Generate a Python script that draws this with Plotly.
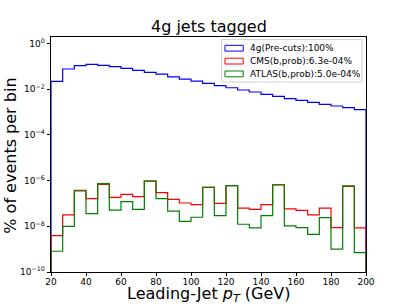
import numpy as np
import plotly.graph_objects as go

# ---------------- data ----------------
bin_lo, bin_hi, n_bins = 20, 200, 27
edges = np.linspace(bin_lo, bin_hi, n_bins + 1)

pre_cuts = [2.24e-2, 7.76e-2, 1.08e-1, 1.24e-1, 1.12e-1, 9.8e-2, 8.3e-2, 6.8e-2, 5.5e-2,
            4.6e-2, 3.5e-2, 2.8e-2, 2.3e-2, 1.8e-2, 1.45e-2, 1.17e-2, 9.3e-3, 7.6e-3,
            6.0e-3, 4.9e-3, 3.9e-3, 3.3e-3, 2.7e-3, 2.2e-3, 1.86e-3, 1.58e-3, 1.29e-3]
cms = [3.9e-9, 3.2e-8, 3.6e-7, 1.62e-7, 6.9e-7, 1.86e-7, 2.5e-7, 2.0e-7, 9.4e-7,
       3.0e-7, 1.51e-7, 1.05e-7, 8.9e-8, 5.1e-7, 1.02e-7, 6.1e-7, 6.3e-8, 5.5e-8,
       8.9e-8, 6.6e-7, 5.8e-8, 5.0e-8, 3.2e-8, 6.3e-8, 8.7e-9, 5.6e-7, 8.5e-9]
atlas = [8.1e-10, 1.0e-8, 3.8e-7, 3.6e-8, 7.4e-7, 5.1e-8, 1.2e-7, 5.5e-8, 9.8e-7,
         1.62e-7, 4.6e-8, 1.66e-8, 2.5e-8, 5.1e-7, 2.95e-8, 6.0e-7, 1.23e-8, 8.5e-9,
         2.95e-8, 6.5e-7, 1.05e-8, 8.7e-9, 4.4e-9, 2.4e-8, 1.0e-9, 5.9e-7, 7.1e-10]

series_values = [pre_cuts, cms, atlas]
series_names = ["4g(Pre-cuts):100%", "CMS(b,prob):6.3e-04%", "ATLAS(b,prob):5.0e-04%"]
series_colors = ["#0000ff", "#ff0000", "#008000"]

x_ticks = [20, 40, 60, 80, 100, 120, 140, 160, 180, 200]
y_tick_exps = [0, -2, -4, -6, -8, -10]

title_text = "4g jets tagged"
x_title = "Leading-Jet <i>p</i><sub><i>T</i></sub> (GeV)"
y_title = "% of events per bin"

# ---------------- figure ----------------
FONT = "DejaVu Sans"
FLOOR = 1e-14  # bottom of step outline (below visible range, clipped)

fig = go.Figure()
for vals, name, color in zip(series_values, series_names, series_colors):
    xs = [edges[0]] + list(edges) + [edges[-1]]
    ys = [FLOOR] + list(vals) + [vals[-1], FLOOR]
    fig.add_trace(go.Scatter(x=xs, y=ys, mode="lines", line_shape="hv",
                             line=dict(color=color, width=1.2), name=name,
                             showlegend=False, hoverinfo="skip"))

axis_common = dict(showline=True, linecolor="black", linewidth=0.8, mirror=True,
                   ticks="outside", ticklen=3.5, tickwidth=0.8, tickcolor="black",
                   showgrid=False, zeroline=False, layer="below traces",
                   tickfont=dict(family=FONT, size=9, color="black"))

fig.update_layout(
    width=407, height=305,
    margin=dict(l=51, r=41, t=37, b=33, autoexpand=False),
    paper_bgcolor="white", plot_bgcolor="white",
    font=dict(family=FONT, color="black"),
    xaxis=dict(range=[bin_lo, bin_hi], tickvals=x_ticks, ticklabelstandoff=-2,
               **axis_common),
    yaxis=dict(type="log", range=[-10, 0.29],
               tickvals=[10.0 ** e for e in y_tick_exps],
               ticktext=["10<sup>%s</sup>" % (str(e).replace("-", "\u2212")) for e in y_tick_exps],
               **axis_common),
)

W_PLOT, H_PLOT, L, TOP_BOTTOM = 315.6, 235.0, 50.7, 271.7


def px_x(p):
    return (p - L) / W_PLOT


def px_y(p):
    return (TOP_BOTTOM - p) / H_PLOT


annotations = [
    dict(text=title_text, x=0.5, y=px_y(26), xref="paper", yref="paper",
         xanchor="center", yanchor="middle", showarrow=False,
         font=dict(family=FONT, size=16, color="black")),
    dict(text=x_title, x=0.5, y=px_y(294.5), xref="paper", yref="paper",
         xanchor="center", yanchor="middle", showarrow=False,
         font=dict(family=FONT, size=16, color="black")),
    dict(text=y_title, x=px_x(10), y=px_y(155), xref="paper", yref="paper",
         xanchor="center", yanchor="middle", showarrow=False, textangle=-90,
         font=dict(family=FONT, size=16, color="black")),
]

shapes = [dict(type="rect", xref="paper", yref="paper",
               x0=px_x(221.7), x1=px_x(362.3), y0=px_y(81.7), y1=px_y(39.3),
               line=dict(color="#d0d0d0", width=1), fillcolor="rgba(255,255,255,0.8)",
               layer="above")]

entry_centers = [47.9, 60.8, 73.6]
for cy, name, color in zip(entry_centers, series_names, series_colors):
    shapes.append(dict(type="rect", xref="paper", yref="paper",
                       x0=px_x(225), x1=px_x(243.3), y0=px_y(cy + 2.9), y1=px_y(cy - 2.9),
                       line=dict(color=color, width=1), fillcolor="rgba(0,0,0,0)",
                       layer="above"))
    annotations.append(dict(text=name, x=px_x(248.3), y=px_y(cy), xref="paper", yref="paper",
                            xanchor="left", yanchor="middle", showarrow=False,
                            font=dict(family=FONT, size=9, color="black")))

fig.update_layout(annotations=annotations, shapes=shapes)

fig.write_html("out.html", config={"displayModeBar": False})

# remove the browser's default body margin so the figure sits at the page origin
with open("out.html", "r", encoding="utf-8") as f:
    html = f.read()
html = html.replace("<body>", '<body style="margin:0;padding:0;overflow:hidden">', 1)
with open("out.html", "w", encoding="utf-8") as f:
    f.write(html)
